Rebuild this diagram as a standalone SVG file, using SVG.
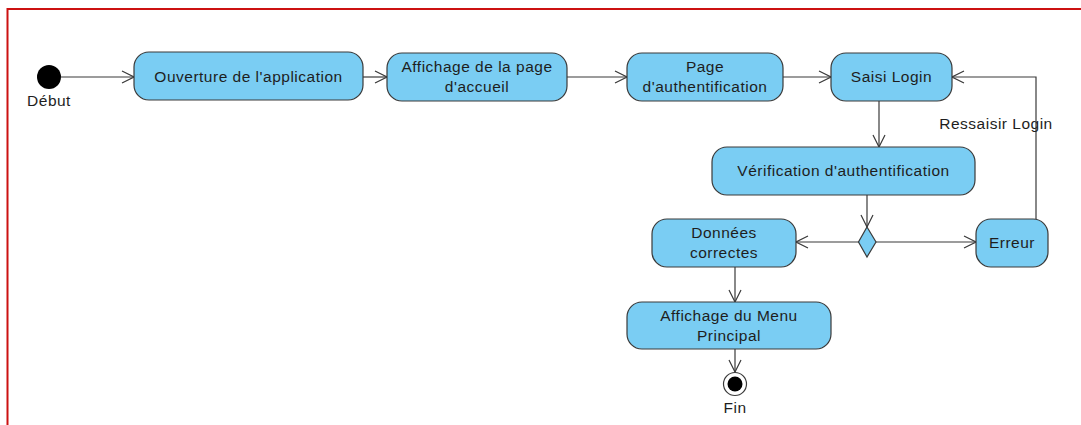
<svg xmlns="http://www.w3.org/2000/svg" width="1081" height="425" viewBox="0 0 1081 425">
<style>
.n{fill:#7ACDF3;stroke:#3a3a3a;stroke-width:1.2}
.t{font-family:"Liberation Sans",Arial,sans-serif;font-size:15.5px;letter-spacing:0.5px;fill:#1e1e1e;text-anchor:middle}
.c{stroke:#3a3a3a;stroke-width:1.2;fill:none}
</style>
<defs>
<marker id="a" viewBox="0 0 14 14" refX="13" refY="7" markerWidth="14" markerHeight="14" markerUnits="userSpaceOnUse" orient="auto">
<path d="M1,1 L13,7 L1,13" fill="none" stroke="#3a3a3a" stroke-width="1.2"/>
</marker>
</defs>
<rect x="0" y="0" width="1081" height="425" fill="#fff"/>
<path d="M7.5,430 V9 H1090" fill="none" stroke="#cc1111" stroke-width="2"/>
<g id="connectors">
<line class="c" x1="61" y1="77" x2="134" y2="77" marker-end="url(#a)"/>
<line class="c" x1="363" y1="77" x2="387" y2="77" marker-end="url(#a)"/>
<line class="c" x1="567" y1="77" x2="627" y2="77" marker-end="url(#a)"/>
<line class="c" x1="783" y1="77" x2="831" y2="77" marker-end="url(#a)"/>
<line class="c" x1="879" y1="101" x2="879" y2="147" marker-end="url(#a)"/>
<line class="c" x1="867" y1="195" x2="867" y2="227" marker-end="url(#a)"/>
<line class="c" x1="859" y1="242" x2="796" y2="242" marker-end="url(#a)"/>
<line class="c" x1="876" y1="242" x2="976" y2="242" marker-end="url(#a)"/>
<polyline class="c" points="1036,219 1036,77 952,77" marker-end="url(#a)"/>
<text class="t" x="996" y="128.5">Ressaisir Login</text>
<line class="c" x1="735" y1="267" x2="735" y2="302" marker-end="url(#a)"/>
<line class="c" x1="735" y1="349" x2="735" y2="372" marker-end="url(#a)"/>
</g>
<g id="start">
<circle cx="49" cy="77" r="12" fill="#000"/>
<text class="t" x="49" y="105.5">Début</text>
</g>
<g id="ouverture">
<rect class="n" x="134" y="52" width="229" height="48" rx="15"/>
<text class="t" x="248.5" y="82">Ouverture de l'application</text>
</g>
<g id="accueil">
<rect class="n" x="387" y="53" width="180" height="48" rx="15"/>
<text class="t" x="477" y="72">Affichage de la page</text>
<text class="t" x="477" y="92">d'accueil</text>
</g>
<g id="pageauth">
<rect class="n" x="627" y="53" width="156" height="48" rx="15"/>
<text class="t" x="705" y="72">Page</text>
<text class="t" x="705" y="92">d'authentification</text>
</g>
<g id="saisi">
<rect class="n" x="831" y="53" width="121" height="48" rx="15"/>
<text class="t" x="891.5" y="82">Saisi Login</text>
</g>
<g id="verification">
<rect class="n" x="712" y="147" width="263" height="48" rx="15"/>
<text class="t" x="843.5" y="176">Vérification d'authentification</text>
</g>
<g id="decision">
<polygon class="n" points="867,227 876,242 867,257 858.5,242"/>
</g>
<g id="donnees">
<rect class="n" x="652" y="219" width="144" height="48" rx="15"/>
<text class="t" x="724" y="238">Données</text>
<text class="t" x="724" y="258">correctes</text>
</g>
<g id="erreur">
<rect class="n" x="976" y="219" width="72" height="48" rx="15"/>
<text class="t" x="1012" y="248">Erreur</text>
</g>
<g id="menu">
<rect class="n" x="627" y="302" width="204" height="47" rx="15"/>
<text class="t" x="729" y="320.5">Affichage du Menu</text>
<text class="t" x="729" y="340.5">Principal</text>
</g>
<g id="fin">
<circle cx="735" cy="384" r="11.5" fill="#fff" stroke="#3a3a3a" stroke-width="1.2"/>
<circle cx="735" cy="384" r="7.5" fill="#000"/>
<text class="t" x="735" y="412.5">Fin</text>
</g>
</svg>
